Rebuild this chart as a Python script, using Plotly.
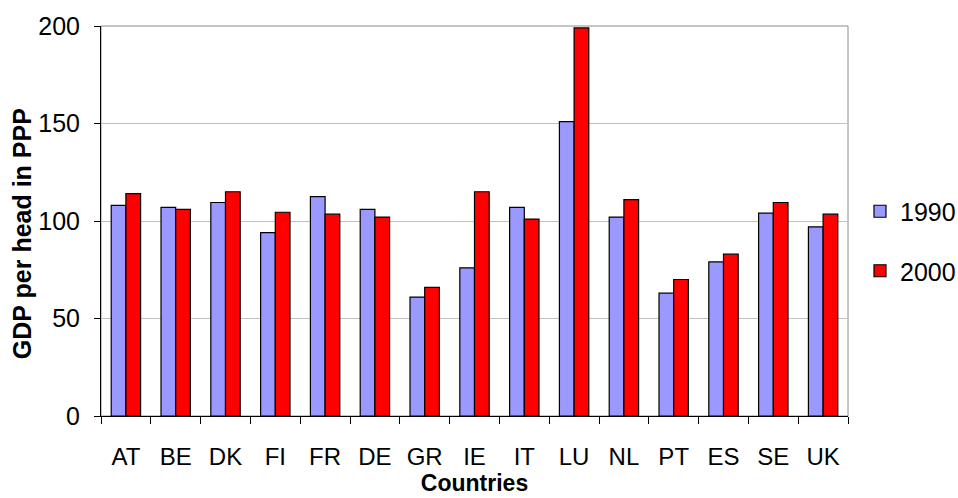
import plotly.graph_objects as go

countries = ["AT", "BE", "DK", "FI", "FR", "DE", "GR", "IE", "IT", "LU", "NL", "PT", "ES", "SE", "UK"]
gdp_1990 = [108, 107, 109.5, 94, 112.5, 106, 61, 76, 107, 151, 102, 63, 79, 104, 97]
gdp_2000 = [114, 106, 115, 104.5, 103.5, 102, 66, 115, 101, 199, 111, 70, 83, 109.5, 103.5]
y_ticks = [0, 50, 100, 150, 200]

FONT = "Liberation Sans, Arial, sans-serif"

fig = go.Figure()
fig.add_trace(go.Bar(x=countries, y=gdp_1990, name="1990", legendgroup="a",
                     marker=dict(color="#9999FF", line=dict(color="black", width=1.2))))
fig.add_trace(go.Bar(x=countries, y=gdp_2000, name="2000", legendgroup="b",
                     marker=dict(color="#FF0000", line=dict(color="black", width=1.2))))

PLOT_L, PLOT_R, PLOT_T, PLOT_B = 101, 855, 23, 416
fig.update_layout(
    width=958, height=498,
    margin=dict(l=PLOT_L, r=958 - PLOT_R, t=PLOT_T, b=498 - PLOT_B),
    paper_bgcolor="white", plot_bgcolor="white",
    font=dict(family=FONT, size=23, color="black"),
    barmode="group", bargap=0.41, bargroupgap=0,
    showlegend=True,
    legend=dict(x=860 / 958, xref="container", xanchor="left",
                y=1 - 241 / 498, yref="container", yanchor="middle",
                tracegroupgap=24, font=dict(size=25),
                bgcolor="rgba(0,0,0,0)"),
    shapes=[dict(type="rect", xref="paper", yref="paper", x0=0, x1=1, y0=0, y1=1,
                 line=dict(color="#8c8c8c", width=1), layer="below")],
    annotations=[dict(text="<b>GDP per head in PPP</b>", textangle=-90,
                      xref="paper", yref="paper",
                      x=(22 - PLOT_L) / (PLOT_R - PLOT_L),
                      y=(PLOT_B - 232) / (PLOT_B - PLOT_T),
                      xanchor="center", yanchor="middle", showarrow=False,
                      font=dict(size=25))],
)

fig.update_xaxes(
    showline=True, linecolor="black", linewidth=1,
    ticks="outside", tickson="boundaries", ticklen=7, tickcolor="black",
    ticklabelstandoff=19, tickfont=dict(size=24),
    title=dict(text="<b>Countries</b>", font=dict(size=23), standoff=0),
)
fig.update_yaxes(
    range=[0, 200], tickvals=y_ticks, showline=True, linecolor="black", linewidth=1,
    ticks="outside", ticklen=6, tickcolor="black", ticklabelstandoff=9,
    tickfont=dict(size=25),
    showgrid=True, gridcolor="#c0c0c0", gridwidth=1, zeroline=False,
)

fig.write_html("out.html")
